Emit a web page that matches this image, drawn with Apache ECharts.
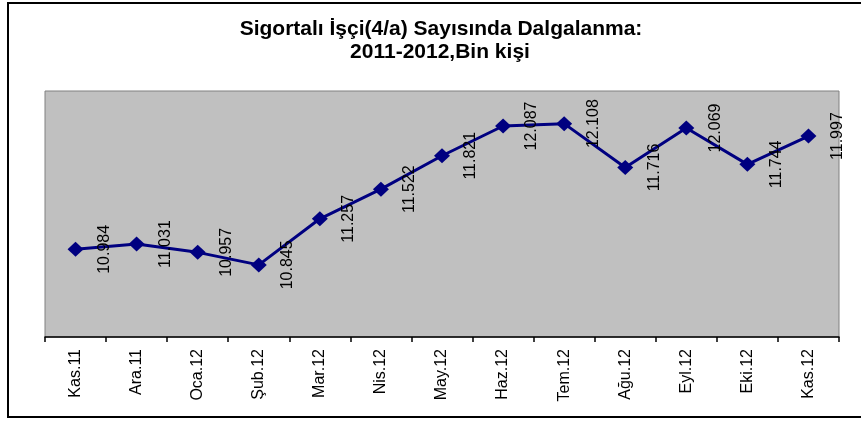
<!DOCTYPE html>
<html>
<head>
<meta charset="utf-8">
<script src="https://cdn.jsdelivr.net/npm/echarts@6/dist/echarts.min.js"></script>
<style>
html,body{margin:0;padding:0;background:#fff;}
#chart{width:861px;height:421px;}
</style>
</head>
<body>
<div id="chart"></div>
<script>
const titleLine1 = 'Sigortalı İşçi(4/a) Sayısında Dalgalanma:';
const titleLine2 = '2011-2012,Bin kişi';
const categories = ['Kas.11','Ara.11','Oca.12','Şub.12','Mar.12','Nis.12','May.12','Haz.12','Tem.12','Ağu.12','Eyl.12','Eki.12','Kas.12'];
const values = [10.984, 11.031, 10.957, 10.845, 11.257, 11.522, 11.821, 12.087, 12.108, 11.716, 12.069, 11.744, 11.997];

const chart = echarts.init(document.getElementById('chart'), null, {renderer: 'canvas'});
const font = 'Liberation Sans, Arial, sans-serif';
chart.setOption({
  animation: false,
  backgroundColor: '#ffffff',
  graphic: [
    {type: 'rect', shape: {x: 8, y: 3, width: 870, height: 414}, style: {fill: 'none', stroke: '#000', lineWidth: 2}, z: 0},
    {type: 'text', x: 441, y: 29, style: {text: titleLine1, textAlign: 'center', textVerticalAlign: 'middle', font: 'bold 21px ' + font, fill: '#000'}},
    {type: 'text', x: 440, y: 52, style: {text: titleLine2, textAlign: 'center', textVerticalAlign: 'middle', font: 'bold 21px ' + font, fill: '#000'}}
  ],
  grid: {
    left: 45, right: 22, top: 91, bottom: 84,
    show: true, backgroundColor: '#C0C0C0', borderColor: '#808080', borderWidth: 1,
    containLabel: false, outerBoundsMode: 'none'
  },
  xAxis: {
    type: 'category',
    data: categories,
    boundaryGap: true,
    axisLine: {show: true, lineStyle: {color: '#000', width: 1.5}},
    axisTick: {show: true, length: 5, lineStyle: {color: '#000', width: 1.5}},
    axisLabel: {rotate: 90, margin: 12, fontFamily: font, fontSize: 16, color: '#000', interval: 0},
    splitLine: {show: false}
  },
  yAxis: {
    type: 'value',
    min: 10.2, max: 12.4,
    show: false,
    splitLine: {show: false}
  },
  series: [{
    type: 'line',
    data: values,
    symbol: 'diamond',
    symbolSize: [16, 15],
    lineStyle: {color: '#000080', width: 3},
    itemStyle: {color: '#000080'},
    label: {
      show: true,
      position: 'inside',
      rotate: 90,
      offset: [0, 29],
      fontFamily: font,
      fontSize: 16,
      color: '#000',
      align: 'center',
      verticalAlign: 'middle',
      formatter: p => p.value.toFixed(3)
    }
  }]
});
</script>
</body>
</html>
